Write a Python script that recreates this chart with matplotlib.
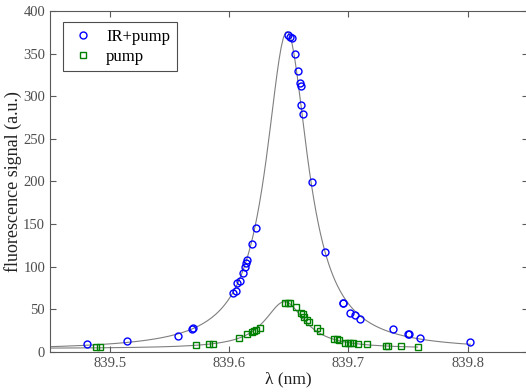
import numpy as np
import matplotlib
matplotlib.use("Agg")
import matplotlib.pyplot as plt

# --- datos ---
ir_lam = [839.4813, 839.5143, 839.5573, 839.5693, 839.5700, 839.6034, 839.6059,
          839.6070, 839.6092, 839.6120, 839.6132, 839.6143, 839.6148, 839.6188,
          839.6224, 839.6492, 839.6514, 839.6531, 839.6548, 839.6578, 839.6590,
          839.6604, 839.6600, 839.6618, 839.6693, 839.6800, 839.6951, 839.6955,
          839.7012, 839.7051, 839.7093, 839.7372, 839.7498, 839.7510, 839.7599,
          839.8020]
ir_sig = [9.4, 12.9, 19.0, 26.6, 27.8, 69.6, 72.0,
          80.5, 83.3, 93.0, 100.0, 104.0, 108.0, 126.7,
          145.8, 371.8, 370.0, 368.0, 350.0, 330.0, 316.0,
          312.0, 290.0, 279.0, 199.8, 117.7, 57.5, 57.0,
          46.1, 43.0, 38.7, 27.4, 21.5, 21.0, 16.4,
          11.3]

pump_lam = [839.4883, 839.4919, 839.5724, 839.5830, 839.5863, 839.6081, 839.6151,
            839.6196, 839.6210, 839.6224, 839.6255, 839.6467, 839.6490, 839.6509,
            839.6559, 839.6601, 839.6615, 839.6628, 839.6651, 839.6670, 839.6740,
            839.6763, 839.6880, 839.6903, 839.6922, 839.6970, 839.6992, 839.7009,
            839.7034, 839.7081, 839.7154, 839.7313, 839.7327, 839.7439, 839.7579]
pump_sig = [6.3, 6.3, 8.6, 9.4, 9.7, 16.0, 20.7,
            23.8, 25.0, 25.8, 28.5, 57.0, 57.8, 57.8,
            53.0, 46.0, 44.6, 41.4, 37.5, 35.2, 27.8,
            25.0, 14.9, 14.9, 14.0, 11.0, 11.0, 10.5,
            10.6, 9.0, 9.0, 7.4, 7.4, 7.4, 5.5]

# parametros del ajuste lorentziano (amplitud, centro, anchura, fondo)
ir_fit = (374.0, 839.6485, 0.0213, 2.0)
pump_fit = (55.0, 839.6465, 0.0205, 4.0)

x_ticks = [839.5, 839.6, 839.7, 839.8]
y_ticks = [0, 50, 100, 150, 200, 250, 300, 350, 400]


def lorentz(x, amp, x0, gam, off):
    return amp / (1 + ((x - x0) / gam) ** 2) + off


plt.rcParams['font.family'] = ['Liberation Serif', 'DejaVu Serif']

fig = plt.figure(figsize=(5.26, 3.92), dpi=100)
ax = fig.add_axes([0.095, 0.102, 0.908, 0.870])

# curvas de ajuste: desde el borde izquierdo hasta el ultimo punto de cada serie
xx_ir = np.linspace(839.44, max(ir_lam), 200)
xx_pump = np.linspace(839.44, max(pump_lam), 200)
ax.plot(xx_ir, lorentz(xx_ir, *ir_fit), color='#7f7f7f', lw=0.8, zorder=1)
ax.plot(xx_pump, lorentz(xx_pump, *pump_fit), color='#7f7f7f', lw=0.8, zorder=1)

ax.plot(ir_lam, ir_sig, 'o', mfc='none', mec='#0000ff', mew=1.0, ms=5,
        label='IR+pump', zorder=3)
ax.plot(pump_lam, pump_sig, 's', mfc='none', mec='#008000', mew=1.0, ms=4,
        label='pump', zorder=3)

ax.set_xlim(839.45, 839.85)
ax.set_ylim(0, 400)
ax.set_xticks(x_ticks)
ax.set_xticklabels([f"{t:.1f}" for t in x_ticks])
ax.set_yticks(y_ticks)

ax.tick_params(direction='in', top=True, right=True, length=4, width=0.8,
               colors='#5a5a5a', labelsize=10.5, labelcolor='#4d4d4d')
for s in ax.spines.values():
    s.set_color('#5a5a5a')
    s.set_linewidth(0.8)

ax.set_xlabel('λ (nm)', fontsize=12.5, color='#222222', labelpad=1)
ax.set_ylabel('fluorescence signal (a.u.)', fontsize=13, color='#222222', labelpad=1)

leg = ax.legend(loc='upper left', bbox_to_anchor=(0.027, 0.968), fontsize=12,
                fancybox=False, framealpha=1, edgecolor='#4d4d4d',
                handletextpad=0.6, borderpad=0.4, labelspacing=0.25,
                handlelength=1.6, borderaxespad=0)
leg.get_frame().set_linewidth(0.8)

plt.savefig('out.png', dpi=100)
